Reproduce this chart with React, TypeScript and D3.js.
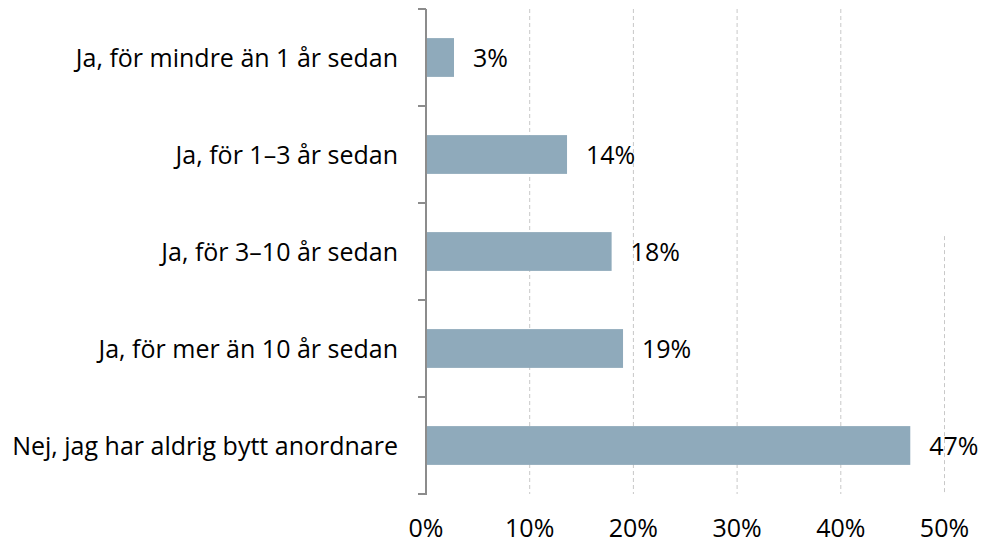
import * as d3 from 'd3';
import React, { useRef, useEffect } from 'react';

// categories, top to bottom
const categories = [
    'Ja, för mindre än 1 år sedan',
    'Ja, för 1–3 år sedan',
    'Ja, för 3–10 år sedan',
    'Ja, för mer än 10 år sedan',
    'Nej, jag har aldrig bytt anordnare',
];
// share of respondents (%)
const values = [2.7, 13.6, 17.9, 19.0, 46.7];
const valueLabels = ['3%', '14%', '18%', '19%', '47%'];
const ticks = [0, 10, 20, 30, 40, 50];

const App = () => {
    const svgRef = useRef<HTMLDivElement>(null);

    useEffect(() => {
        const width = 982;
        const height = 544;
        const margin = { top: 9, right: 38, bottom: 50, left: 426 };
        const font = '"Open Sans", sans-serif';
        const fontSize = '25px';

        d3.select(svgRef.current).select('svg').remove();

        const svg = d3.select(svgRef.current)
            .append('svg')
            .attr('width', width)
            .attr('height', height)
            .style('display', 'block');

        const x = d3.scaleLinear()
            .domain([0, 50])
            .range([margin.left, margin.left + 518.5]);

        const y = d3.scaleBand()
            .domain(categories)
            .range([margin.top, height - margin.bottom])
            .paddingInner(0.6)
            .paddingOuter(0.3);

        const step = y.step();
        const y0 = margin.top;
        const y1 = height - margin.bottom;

        // dashed gridlines (the last one is partly hidden at the top)
        svg.append('g')
            .selectAll('line')
            .data(ticks.slice(1))
            .enter().append('line')
            .attr('x1', (d) => x(d))
            .attr('x2', (d) => x(d))
            .attr('y1', (d) => d === 50 ? (y(categories[2]) as number) + 4 : y0)
            .attr('y2', y1)
            .attr('stroke', '#c8c8c8')
            .attr('stroke-width', 1)
            .attr('stroke-dasharray', '4,3');

        // bars
        svg.append('g')
            .selectAll('rect')
            .data(values)
            .enter().append('rect')
            .attr('x', x(0))
            .attr('y', (d, i) => y(categories[i]) as number)
            .attr('width', (d) => x(d) - x(0))
            .attr('height', y.bandwidth())
            .attr('fill', '#8faabb');

        // value labels
        svg.append('g')
            .selectAll('text')
            .data(values)
            .enter().append('text')
            .attr('x', (d) => x(d) + 19)
            .attr('y', (d, i) => (y(categories[i]) as number) + y.bandwidth() / 2)
            .attr('dy', '0.36em')
            .style('font-family', font)
            .style('font-size', fontSize)
            .attr('fill', '#000')
            .text((d, i) => valueLabels[i]);

        // y axis line with category boundary ticks
        const axis = svg.append('g')
            .attr('stroke', '#8c8c8c')
            .attr('stroke-width', 2);
        axis.append('line')
            .attr('x1', x(0)).attr('x2', x(0))
            .attr('y1', y0).attr('y2', y1 + 1);
        axis.selectAll('line.tick')
            .data(d3.range(categories.length + 1))
            .enter().append('line')
            .attr('class', 'tick')
            .attr('x1', x(0) - 8)
            .attr('x2', x(0))
            .attr('y1', (i) => y0 + i * step)
            .attr('y2', (i) => y0 + i * step);

        // category labels
        svg.append('g')
            .selectAll('text')
            .data(categories)
            .enter().append('text')
            .attr('x', x(0) - 28)
            .attr('y', (d) => (y(d) as number) + y.bandwidth() / 2)
            .attr('dy', '0.36em')
            .attr('text-anchor', 'end')
            .style('font-family', font)
            .style('font-size', fontSize)
            .attr('fill', '#000')
            .text((d) => d);

        // x tick labels
        svg.append('g')
            .selectAll('text')
            .data(ticks)
            .enter().append('text')
            .attr('x', (d) => x(d))
            .attr('y', y1 + 43)
            .attr('text-anchor', 'middle')
            .style('font-family', font)
            .style('font-size', fontSize)
            .attr('fill', '#000')
            .text((d) => `${d}%`);
    }, []);

    return (
        <div ref={svgRef} style={{ position: 'absolute', top: 0, left: 0 }}></div>
    );
};

export default App;
